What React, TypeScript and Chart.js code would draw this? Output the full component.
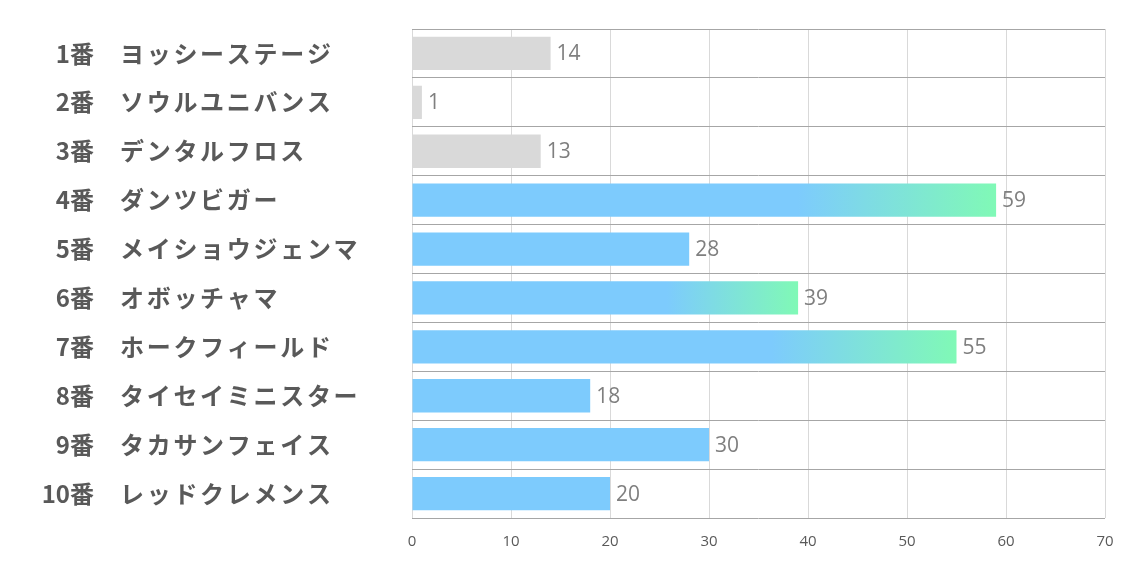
import React, { useEffect, useRef } from "react";
import { Chart, registerables } from "chart.js";

Chart.register(...registerables);

const horseNumbers: string[] = ["1番", "2番", "3番", "4番", "5番", "6番", "7番", "8番", "9番", "10番"];
const horseNames: string[] = [
  "ヨッシーステージ",
  "ソウルユニバンス",
  "デンタルフロス",
  "ダンツビガー",
  "メイショウジェンマ",
  "オボッチャマ",
  "ホークフィールド",
  "タイセイミニスター",
  "タカサンフェイス",
  "レッドクレメンス",
];
const scores: number[] = [14, 1, 13, 59, 28, 39, 55, 18, 30, 20];
const barKinds: string[] = ["gray", "gray", "gray", "grad", "blue", "grad", "grad", "blue", "blue", "blue"];
const xTicks: number[] = [0, 10, 20, 30, 40, 50, 60, 70];

const GRAY = "#d9d9d9";
const BLUE = "#7dcbfd";
const GREEN = "#80f9b6";

export default function App() {
  const ref = useRef<HTMLCanvasElement | null>(null);

  useEffect(() => {
    if (!ref.current) return;

    const leftLabels = {
      id: "leftLabels",
      afterDraw(chart: any) {
        const ctx = chart.ctx;
        const y = chart.scales.y;
        ctx.save();
        ctx.fillStyle = "#595959";
        ctx.textBaseline = "middle";
        horseNames.forEach((name, i) => {
          const py = y.getPixelForValue(i);
          ctx.font = "bold 24px 'Noto Sans CJK JP'";
          ctx.textAlign = "right";
          (ctx as any).letterSpacing = "0px";
          ctx.fillText(horseNumbers[i], 94, py);
          ctx.textAlign = "left";
          ctx.font = "bold 24px 'Noto Sans CJK JP'";
          (ctx as any).letterSpacing = "2.7px";
          ctx.fillText(name, 120, py);
        });
        (ctx as any).letterSpacing = "0px";
        ctx.restore();
      },
    };

    const valueLabels = {
      id: "valueLabels",
      afterDatasetsDraw(chart: any) {
        const ctx = chart.ctx;
        const meta = chart.getDatasetMeta(0);
        ctx.save();
        ctx.fillStyle = "#7f7f7f";
        ctx.font = "21px 'Open Sans'";
        ctx.textAlign = "left";
        ctx.textBaseline = "middle";
        meta.data.forEach((bar: any, i: number) => {
          ctx.fillText(String(scores[i]), bar.x + 6, bar.y + 1);
        });
        ctx.restore();
      },
    };

    const chart = new Chart(ref.current, {
      type: "bar",
      data: {
        labels: horseNames,
        datasets: [
          {
            data: scores,
            categoryPercentage: 1,
            barPercentage: 0.68,
            borderWidth: 0,
            backgroundColor: (c: any) => {
              const kind = barKinds[c.dataIndex];
              if (kind === "gray") return GRAY;
              if (kind === "blue") return BLUE;
              const chartObj = c.chart;
              const xs = chartObj.scales?.x;
              if (!xs || !chartObj.chartArea) return BLUE;
              const x0 = xs.getPixelForValue(0);
              const x1 = xs.getPixelForValue(scores[c.dataIndex]);
              const g = chartObj.ctx.createLinearGradient(x0, 0, x1, 0);
              g.addColorStop(0, BLUE);
              g.addColorStop(0.66, BLUE);
              g.addColorStop(1, GREEN);
              return g;
            },
          },
        ],
      },
      options: {
        indexAxis: "y",
        animation: false,
        responsive: true,
        maintainAspectRatio: false,
        layout: { padding: { left: 0, right: 29, top: 29, bottom: 0 } },
        plugins: {
          legend: { display: false },
          tooltip: { enabled: false },
        },
        scales: {
          x: {
            min: 0,
            max: 70,
            afterBuildTicks: (s: any) => {
              s.ticks = xTicks.map((v) => ({ value: v }));
            },
            afterFit: (s: any) => {
              s.height = 49;
            },
            grid: { color: "#d9d9d9", lineWidth: 1, drawTicks: false },
            border: { display: false },
            ticks: {
              padding: 15,
              color: "#595959",
              font: { family: "'Open Sans'", size: 15 },
            },
          },
          y: {
            afterFit: (s: any) => {
              s.width = 412;
            },
            grid: { offset: true, color: "#a6a6a6", lineWidth: 1, drawTicks: false },
            border: { display: false },
            ticks: { display: false },
          },
        },
      },
      plugins: [leftLabels, valueLabels],
    } as any);

    return () => chart.destroy();
  }, []);

  return (
    <div style={{ position: "fixed", left: 0, top: 0, width: 1134, height: 567, background: "#fff" }}>
      <canvas ref={ref} />
    </div>
  );
}
